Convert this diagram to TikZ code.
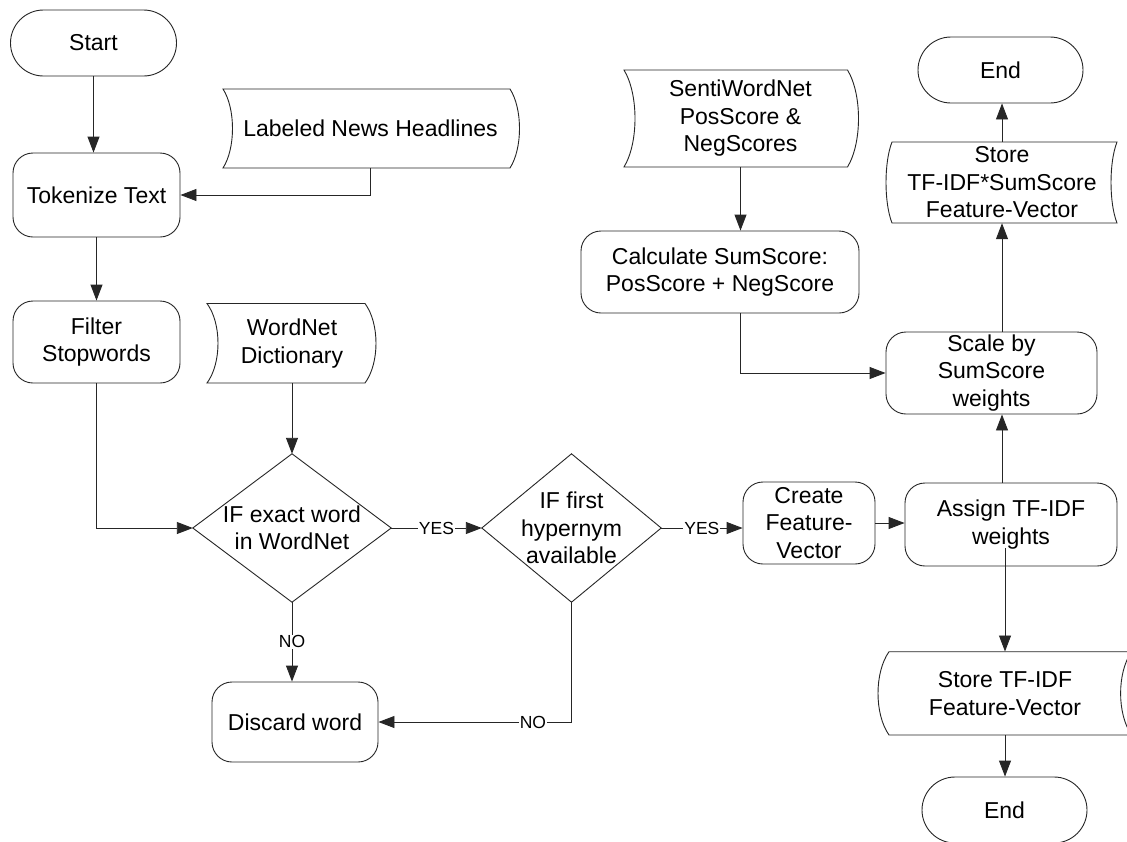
\documentclass[tikz,border=0pt]{standalone}
\usepackage{fontspec}
\setmainfont{Liberation Sans}
\usetikzlibrary{arrows.meta,calc}

% Stored-data outline: corners at x=#1 (left) and #2 (right), top #3, bottom #4;
% both sides bow sideways by #5 (positive: to the right, negative: to the left).
\newcommand\datapath[5]{%
  \draw[wire] (#1,#3) -- (#2,#3)
    .. controls ({#2+1.333*(#5)},{#3+0.25*(#4-#3)}) and ({#2+1.333*(#5)},{#4-0.25*(#4-#3)}) .. (#2,#4)
    -- (#1,#4)
    .. controls ({#1+1.333*(#5)},{#4-0.25*(#4-#3)}) and ({#1+1.333*(#5)},{#3+0.25*(#4-#3)}) .. (#1,#3)
    -- cycle;}

\begin{document}
\begin{tikzpicture}[x=1pt,y=-1pt,
  wire/.style={draw=black!85, line width=0.9pt},
  flow/.style={wire, -{Triangle[length=16pt,width=12pt]}},
  txt/.style={font=\fontsize{23}{27.5}\selectfont, align=center, inner sep=0pt},
  box/.style={txt, wire, rounded corners=20pt},
  terminal/.style={txt, wire, rounded corners=33pt, minimum width=166pt, minimum height=66pt},
  cond/.style={font=\fontsize{17.5}{20}\selectfont, fill=white, inner sep=1pt},
]
\useasboundingbox (0,0) rectangle (1127,841);
\fill[white] (0,0) rectangle (1127,841);

% ---- left column ----
\node[terminal] (start) at (93.5,43) {Start};
\node[box, minimum width=167pt, minimum height=84pt] (tok) at (96.5,195) {Tokenize Text};
\node[box, minimum width=167pt, minimum height=82pt] (filter) at (96.5,342) {Filter\\Stopwords};

% ---- data sources ----
\node[txt, minimum height=79pt] (news) at (370.5,128.5) {Labeled News Headlines};
\datapath{223}{510}{89}{168}{9.5}
\node[txt, minimum height=79.5pt] (dict) at (292,343.5) {WordNet\\Dictionary};
\datapath{207}{365}{303.5}{383}{11}
\node[txt, minimum height=97pt] (senti) at (740.5,118.5) {SentiWordNet\\PosScore \&\\NegScores};
\datapath{624}{847.5}{70}{167}{11}

% ---- decisions ----
\node[txt, minimum width=198pt, minimum height=148pt] (d1) at (292,528) {IF exact word\\in WordNet};
\draw[wire] (d1.north) -- (d1.east) -- (d1.south) -- (d1.west) -- cycle;
\node[txt, minimum width=179pt, minimum height=148pt] (d2) at (571.5,528) {IF first\\hypernym\\available};
\draw[wire] (d2.north) -- (d2.east) -- (d2.south) -- (d2.west) -- cycle;

\node[box, minimum width=166pt, minimum height=80pt] (discard) at (295,722) {Discard word};

% ---- feature construction ----
\node[box, minimum width=132pt, minimum height=82pt] (create) at (809,523) {Create\\Feature-\\Vector};
\node[box, minimum width=212pt, minimum height=83pt] (assign) at (1011,524.5) {Assign TF-IDF\\weights};
\node[box, minimum width=211pt, minimum height=82pt] (scale) at (991.5,373) {Scale by\\SumScore\\weights};
\node[box, minimum width=278pt, minimum height=82pt] (calc) at (720,272) {Calculate SumScore:\\PosScore + NegScore};

\node[txt, minimum height=81pt] (store2) at (1002,182.5) {Store\\TF-IDF*SumScore\\Feature-Vector};
\datapath{892}{1117}{142}{223}{-6}
\node[terminal, minimum width=165pt] (end1) at (1000.5,70) {End};

\node[txt, minimum height=83.3pt] (store1) at (1005,693.35) {Store TF-IDF\\Feature-Vector};
\datapath{889}{1131.6}{651.7}{735}{-11}
\node[terminal, minimum width=165pt] (end2) at (1004.5,810) {End};

% ---- connectors ----
\draw[flow] (start.south) -- (start.south |- tok.north);
\draw[flow] (news.south) |- (tok.east);
\draw[flow] (tok.south) -- (tok.south |- filter.north);
\draw[flow] (filter.south) |- (d1.west);
\draw[flow] (dict.south) -- (d1.north);
\draw[flow] (d1.east) -- node[cond]{YES} (d2.west);
\draw[flow] (d2.east) -- node[cond]{YES} (d2.east -| create.west);
\draw[flow] (d1.south) -- node[cond]{NO} (d1.south |- discard.north);
\draw[flow] (d2.south) |- node[cond, pos=0.6]{NO} (discard.east);
\draw[flow] (create.east) -- (create.east -| assign.west);
\draw[flow] (store2.south |- assign.north) -- (store2.south |- scale.south);
\draw[flow] (store2.south |- scale.north) -- (store2.south);
\draw[flow] (store2.north) -- (store2.north |- end1.south);
\draw[flow] (senti.south) -- (senti.south |- calc.north);
\draw[flow] (senti.south |- calc.south) |- (scale.west);
\draw[flow] ($(store1.north |- assign.south)+(0,-18)$) -- (store1.north);
\draw[flow] (store1.south) -- (store1.south |- end2.north);
\end{tikzpicture}
\end{document}
